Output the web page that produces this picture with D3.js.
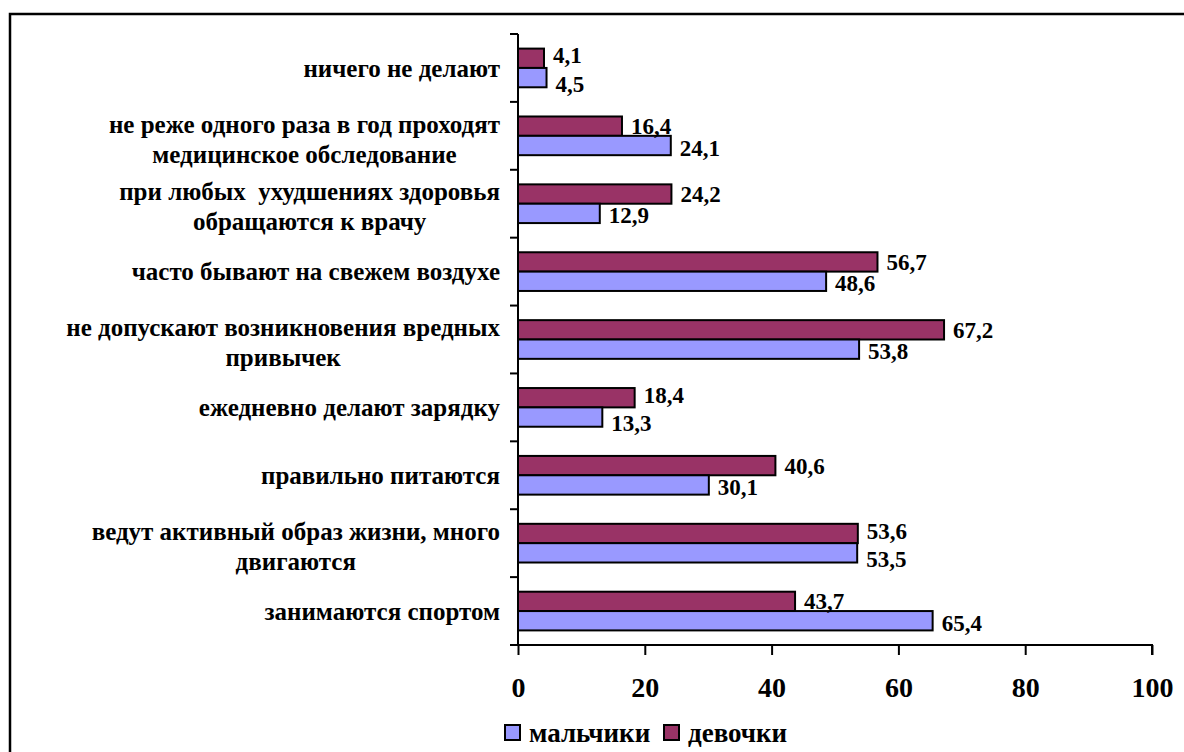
<!DOCTYPE html>
<html><head><meta charset="utf-8">
<script src="https://cdn.jsdelivr.net/npm/d3@7"></script>
<style>
html,body{margin:0;padding:0;background:#fff;}
svg text{font-family:"Liberation Serif","Tinos","Times New Roman","DejaVu Serif",serif;font-weight:bold;fill:#000;white-space:pre;}
</style></head>
<body>
<svg id="chart" width="1184" height="752"></svg>
<script>
const categories = [
  ["ничего не делают"],
  ["не реже одного раза в год проходят", "медицинское обследование"],
  ["при любых  ухудшениях здоровья", "обращаются к врачу"],
  ["часто бывают на свежем воздухе"],
  ["не допускают возникновения вредных", "привычек"],
  ["ежедневно делают зарядку"],
  ["правильно питаются"],
  ["ведут активный образ жизни, много", "двигаются"],
  ["занимаются спортом"]
];
const boys  = [4.5, 24.1, 12.9, 48.6, 53.8, 13.3, 30.1, 53.5, 65.4];
const girls = [4.1, 16.4, 24.2, 56.7, 67.2, 18.4, 40.6, 53.6, 43.7];
const seriesNames = ["мальчики", "девочки"];
const xTicks = [0, 20, 40, 60, 80, 100];

(function () {
const colors = {boys: "#9999FF", girls: "#993366"};
const svg = d3.select("#chart");

// outer border
svg.append("rect").attr("x", 10).attr("y", 14).attr("width", 1200).attr("height", 800)
  .attr("fill", "none").attr("stroke", "#000").attr("stroke-width", 2.5);

const pLeft = 518, pRight = 1152, pTop = 34, pBottom = 645;
const x = d3.scaleLinear().domain([0, 100]).range([pLeft, pRight]);
const idx = d3.range(categories.length);
const y = d3.scaleBand().domain(idx).range([pTop, pBottom]).paddingInner(0.43).paddingOuter(0.215);
const step = y.step();
const bw = y.bandwidth() / 2;

const fmt = v => d3.format(".1f")(v).replace(".", ",");

// bars
const g = svg.append("g");
g.selectAll("rect.girls").data(girls).join("rect").attr("class", "girls")
  .attr("x", x(0)).attr("y", (d, i) => y(i))
  .attr("width", d => x(d) - x(0)).attr("height", bw)
  .attr("fill", colors.girls).attr("stroke", "#000").attr("stroke-width", 2);
g.selectAll("rect.boys").data(boys).join("rect").attr("class", "boys")
  .attr("x", x(0)).attr("y", (d, i) => y(i) + bw)
  .attr("width", d => x(d) - x(0)).attr("height", bw)
  .attr("fill", colors.boys).attr("stroke", "#000").attr("stroke-width", 2);

// value labels (push apart when the two labels of a pair would collide)
const close = i => Math.abs(x(girls[i]) - x(boys[i])) < 45;
g.selectAll("text.vg").data(girls).join("text").attr("class", "vg")
  .attr("x", d => x(d) + 9).attr("y", (d, i) => y(i) + bw / 2 - (close(i) ? 3 : 0))
  .attr("dy", "0.35em").style("font-size", "23px").text(fmt);
g.selectAll("text.vb").data(boys).join("text").attr("class", "vb")
  .attr("x", d => x(d) + 9).attr("y", (d, i) => y(i) + bw * 1.5 + (close(i) ? 6 : 2))
  .attr("dy", "0.35em").style("font-size", "23px").text(fmt);

// y axis
const ya = svg.append("g").attr("stroke", "#000").attr("stroke-width", 2);
ya.append("line").attr("x1", pLeft).attr("x2", pLeft).attr("y1", pTop).attr("y2", pBottom);
ya.selectAll("line.t").data(d3.range(categories.length + 1)).join("line").attr("class", "t")
  .attr("x1", pLeft - 8).attr("x2", pLeft)
  .attr("y1", i => pTop + i * step).attr("y2", i => pTop + i * step);

// category labels
const labelRight = 500;
const lineH = 30;
categories.forEach((lines, i) => {
  const cy = y(i) + y.bandwidth() / 2 + (lines.length > 1 ? 3 : 0);
  const grp = svg.append("g");
  const ts = lines.map((t, j) => grp.append("text")
    .style("font-size", "25px")
    .attr("text-anchor", "middle")
    .attr("y", cy + (j - (lines.length - 1) / 2) * lineH)
    .attr("dy", "0.35em").text(t));
  const maxW = d3.max(ts, t => t.node().getComputedTextLength());
  ts.forEach(t => t.attr("x", labelRight - maxW / 2));
});

// x axis
const xa = svg.append("g").attr("transform", `translate(0,${pBottom})`)
  .call(d3.axisBottom(x).tickValues(xTicks).tickSize(10).tickFormat(d3.format("d")));
xa.attr("font-family", null).attr("font-size", null);
xa.select(".domain").attr("stroke", "#000").attr("stroke-width", 2).attr("d", `M${pLeft},0H${pRight}V10`);
xa.selectAll(".tick line").attr("stroke", "#000").attr("stroke-width", 2);
xa.selectAll(".tick text").attr("y", 52).attr("dy", null).attr("fill", "#000")
  .style("font-size", "28px");

// legend
const legend = [
  {name: seriesNames[0], color: colors.boys, x: 505},
  {name: seriesNames[1], color: colors.girls, x: 664}
];
const lg = svg.append("g");
legend.forEach(l => {
  lg.append("rect").attr("x", l.x).attr("y", 725).attr("width", 15).attr("height", 15)
    .attr("fill", l.color).attr("stroke", "#000").attr("stroke-width", 2);
  lg.append("text").attr("x", l.x + 24).attr("y", 733).attr("dy", "0.35em")
    .style("font-size", "27px").text(l.name);
});
})();
</script>
</body></html>
